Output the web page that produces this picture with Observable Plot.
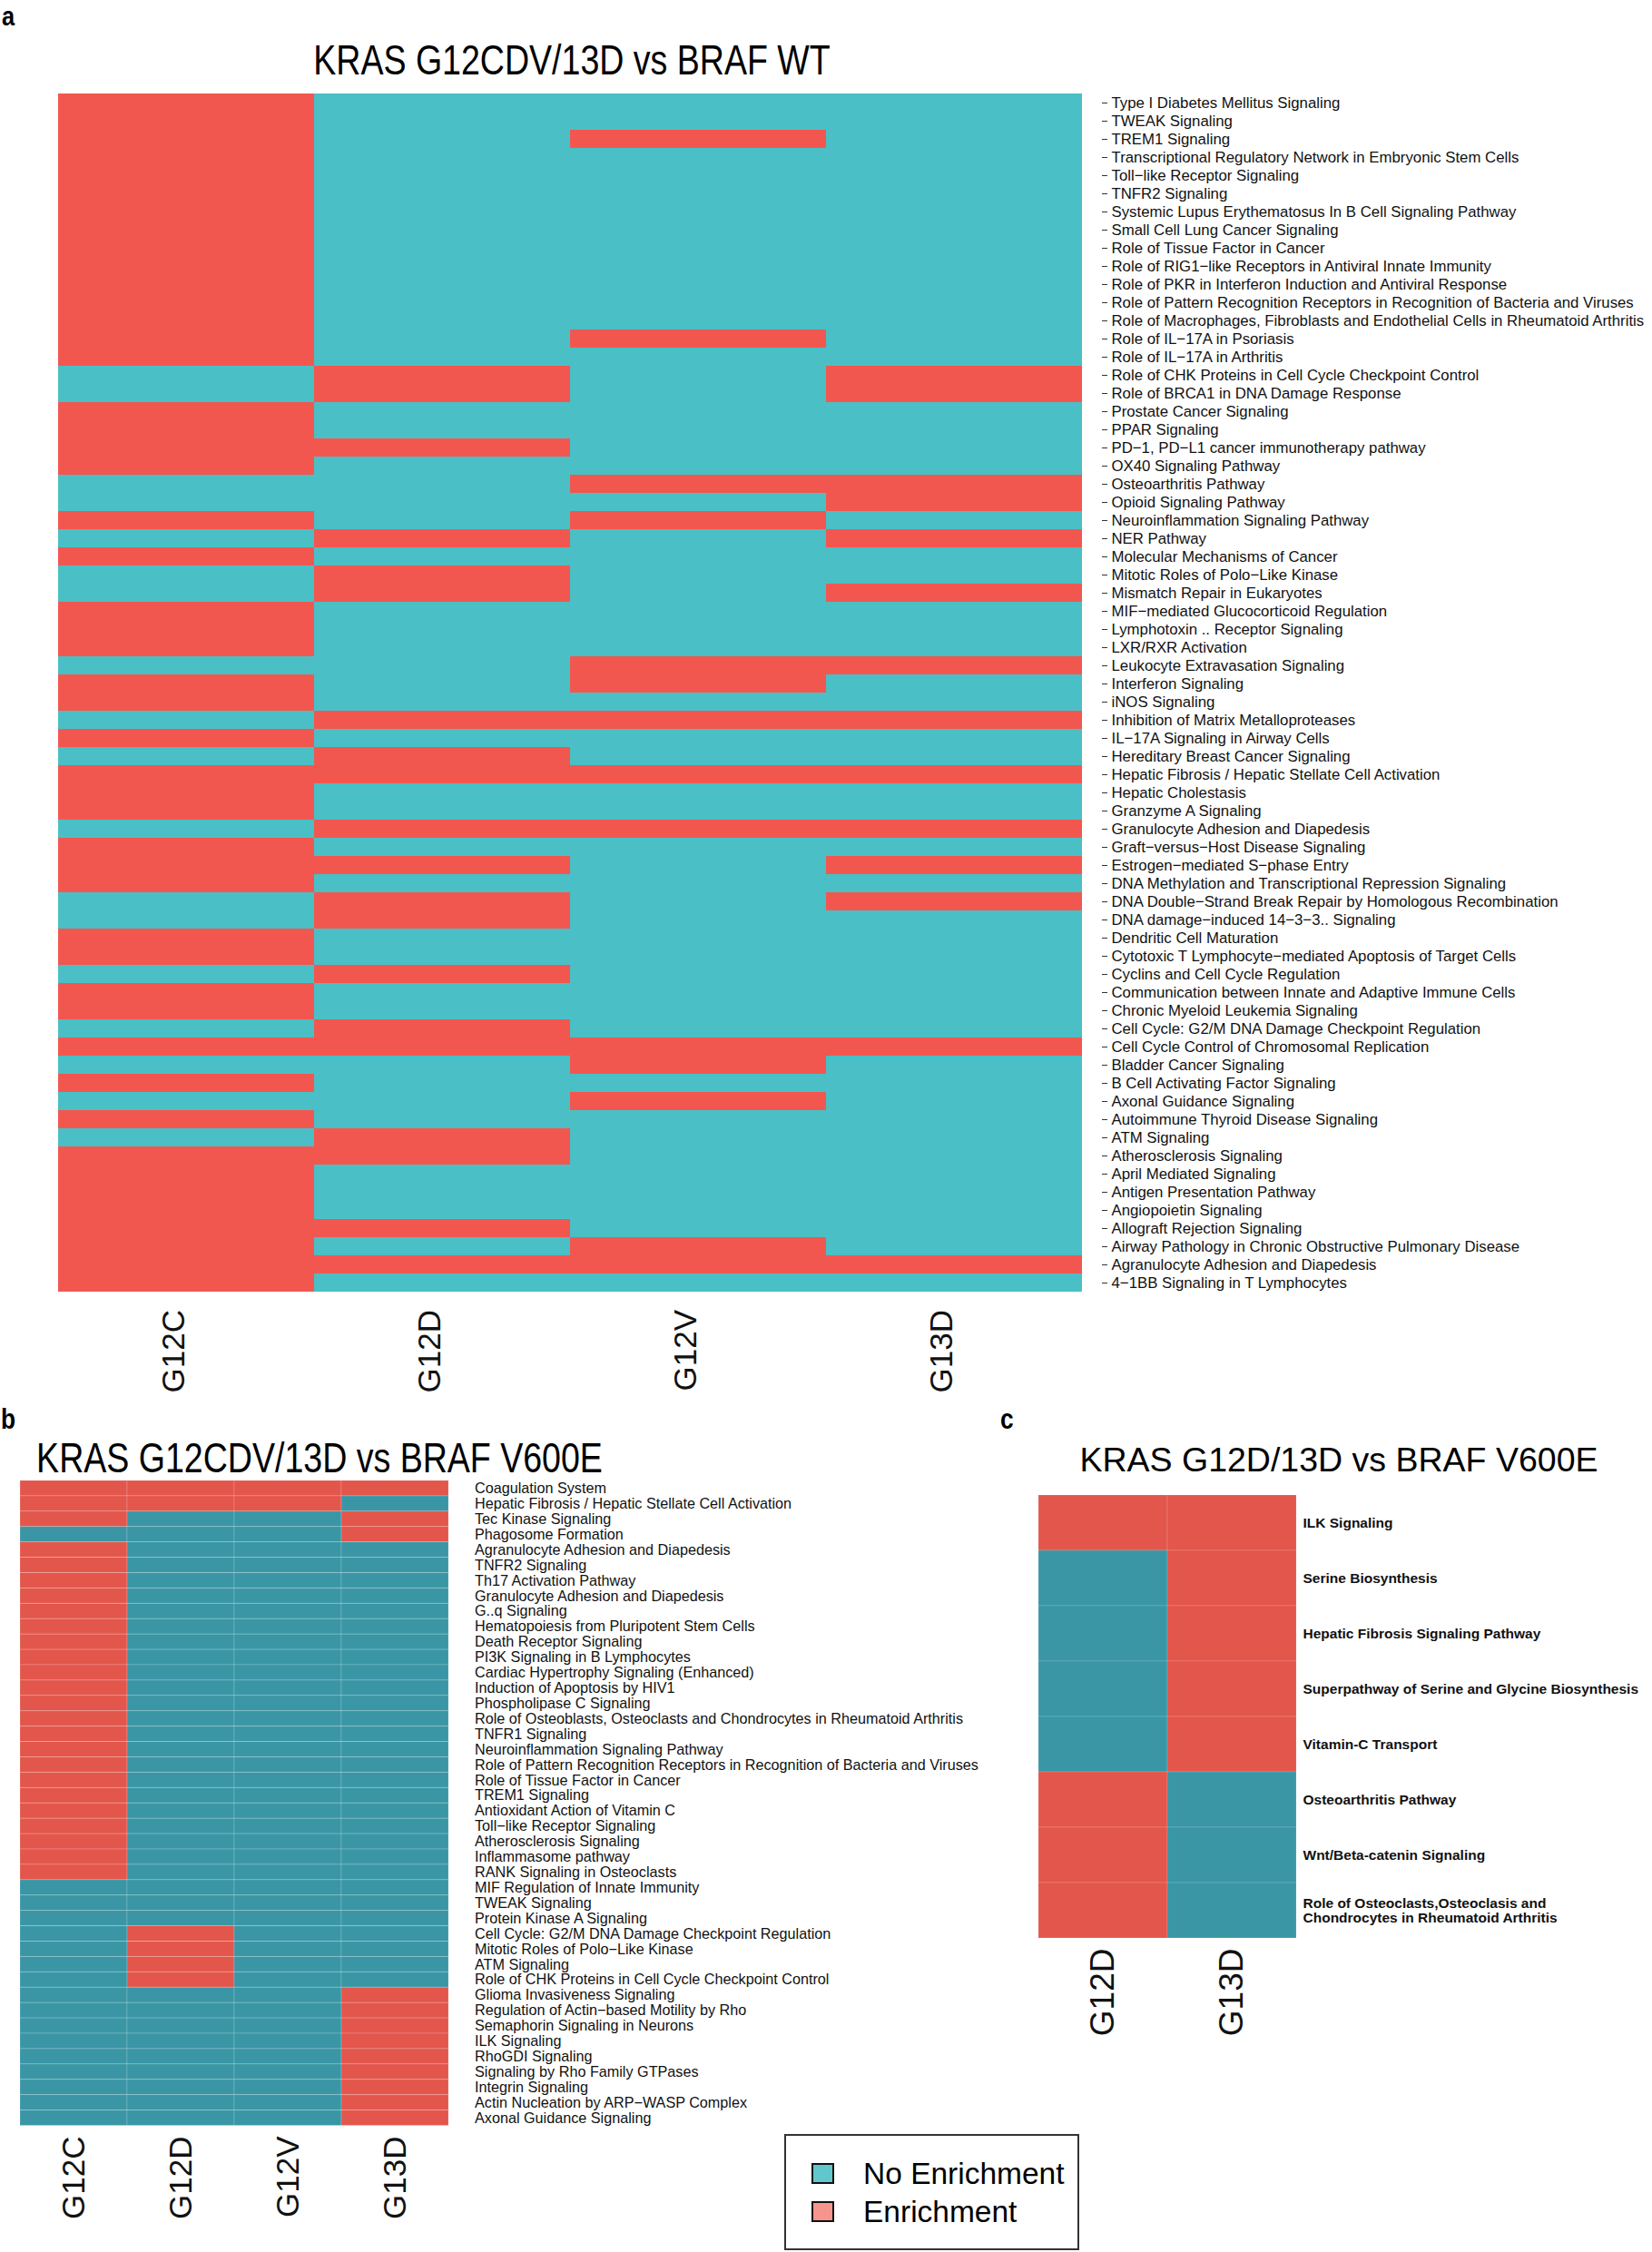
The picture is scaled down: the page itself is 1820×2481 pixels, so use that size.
<!DOCTYPE html>
<html><head><meta charset="utf-8">
<script src="https://cdn.jsdelivr.net/npm/d3@7"></script>
<script src="https://cdn.jsdelivr.net/npm/@observablehq/plot@0.6"></script>
<style>
body{margin:0;background:#fff}
#page{position:relative;width:1820px;height:2481px;overflow:hidden;font-family:"Liberation Sans",Arial,sans-serif;color:#000}
.abs{position:absolute;line-height:1;white-space:nowrap}
.abs svg{display:block}
</style></head>
<body><div id="page"></div>
<script>
// ---------------- DATA ----------------
const colsA = ["G12C","G12D","G12V","G13D"];
const pathwaysA = [
"Type I Diabetes Mellitus Signaling","TWEAK Signaling","TREM1 Signaling",
"Transcriptional Regulatory Network in Embryonic Stem Cells","Toll\u2212like Receptor Signaling","TNFR2 Signaling",
"Systemic Lupus Erythematosus In B Cell Signaling Pathway","Small Cell Lung Cancer Signaling","Role of Tissue Factor in Cancer",
"Role of RIG1\u2212like Receptors in Antiviral Innate Immunity","Role of PKR in Interferon Induction and Antiviral Response",
"Role of Pattern Recognition Receptors in Recognition of Bacteria and Viruses",
"Role of Macrophages, Fibroblasts and Endothelial Cells in Rheumatoid Arthritis",
"Role of IL\u221217A in Psoriasis","Role of IL\u221217A in Arthritis","Role of CHK Proteins in Cell Cycle Checkpoint Control",
"Role of BRCA1 in DNA Damage Response","Prostate Cancer Signaling","PPAR Signaling",
"PD\u22121, PD\u2212L1 cancer immunotherapy pathway","OX40 Signaling Pathway","Osteoarthritis Pathway","Opioid Signaling Pathway",
"Neuroinflammation Signaling Pathway","NER Pathway","Molecular Mechanisms of Cancer","Mitotic Roles of Polo\u2212Like Kinase",
"Mismatch Repair in Eukaryotes","MIF\u2212mediated Glucocorticoid Regulation","Lymphotoxin .. Receptor Signaling",
"LXR/RXR Activation","Leukocyte Extravasation Signaling","Interferon Signaling","iNOS Signaling",
"Inhibition of Matrix Metalloproteases","IL\u221217A Signaling in Airway Cells","Hereditary Breast Cancer Signaling",
"Hepatic Fibrosis / Hepatic Stellate Cell Activation","Hepatic Cholestasis","Granzyme A Signaling",
"Granulocyte Adhesion and Diapedesis","Graft\u2212versus\u2212Host Disease Signaling","Estrogen\u2212mediated S\u2212phase Entry",
"DNA Methylation and Transcriptional Repression Signaling","DNA Double\u2212Strand Break Repair by Homologous Recombination",
"DNA damage\u2212induced 14\u22123\u22123.. Signaling","Dendritic Cell Maturation","Cytotoxic T Lymphocyte\u2212mediated Apoptosis of Target Cells",
"Cyclins and Cell Cycle Regulation","Communication between Innate and Adaptive Immune Cells","Chronic Myeloid Leukemia Signaling",
"Cell Cycle: G2/M DNA Damage Checkpoint Regulation","Cell Cycle Control of Chromosomal Replication","Bladder Cancer Signaling",
"B Cell Activating Factor Signaling","Axonal Guidance Signaling","Autoimmune Thyroid Disease Signaling","ATM Signaling",
"Atherosclerosis Signaling","April Mediated Signaling","Antigen Presentation Pathway","Angiopoietin Signaling",
"Allograft Rejection Signaling","Airway Pathology in Chronic Obstructive Pulmonary Disease","Agranulocyte Adhesion and Diapedesis",
"4\u22121BB Signaling in T Lymphocytes"
];
// 1 = Enrichment, 0 = No Enrichment; columns G12C, G12D, G12V, G13D
const enrichA = [
[1,0,0,0],[1,0,0,0],[1,0,1,0],[1,0,0,0],[1,0,0,0],[1,0,0,0],[1,0,0,0],[1,0,0,0],[1,0,0,0],[1,0,0,0],
[1,0,0,0],[1,0,0,0],[1,0,0,0],[1,0,1,0],[1,0,0,0],[0,1,0,1],[0,1,0,1],[1,0,0,0],[1,0,0,0],[1,1,0,0],
[1,0,0,0],[0,0,1,1],[0,0,0,1],[1,0,1,0],[0,1,0,1],[1,0,0,0],[0,1,0,0],[0,1,0,1],[1,0,0,0],[1,0,0,0],
[1,0,0,0],[0,0,1,1],[1,0,1,0],[1,0,0,0],[0,1,1,1],[1,0,0,0],[0,1,0,0],[1,1,1,1],[1,0,0,0],[1,0,0,0],
[0,1,1,1],[1,0,0,0],[1,1,0,1],[1,0,0,0],[0,1,0,1],[0,1,0,0],[1,0,0,0],[1,0,0,0],[0,1,0,0],[1,0,0,0],
[1,0,0,0],[0,1,0,0],[1,1,1,1],[0,0,1,0],[1,0,0,0],[0,0,1,0],[1,0,0,0],[0,1,0,0],[1,1,0,0],[1,0,0,0],
[1,0,0,0],[1,0,0,0],[1,1,0,0],[1,0,1,0],[1,1,1,1],[1,0,0,0]
];

const colsB = ["G12C","G12D","G12V","G13D"];
const pathwaysB = [
"Coagulation System","Hepatic Fibrosis / Hepatic Stellate Cell Activation","Tec Kinase Signaling","Phagosome Formation",
"Agranulocyte Adhesion and Diapedesis","TNFR2 Signaling","Th17 Activation Pathway","Granulocyte Adhesion and Diapedesis",
"G..q Signaling","Hematopoiesis from Pluripotent Stem Cells","Death Receptor Signaling","PI3K Signaling in B Lymphocytes",
"Cardiac Hypertrophy Signaling (Enhanced)","Induction of Apoptosis by HIV1","Phospholipase C Signaling",
"Role of Osteoblasts, Osteoclasts and Chondrocytes in Rheumatoid Arthritis","TNFR1 Signaling","Neuroinflammation Signaling Pathway",
"Role of Pattern Recognition Receptors in Recognition of Bacteria and Viruses","Role of Tissue Factor in Cancer","TREM1 Signaling",
"Antioxidant Action of Vitamin C","Toll\u2212like Receptor Signaling","Atherosclerosis Signaling","Inflammasome pathway",
"RANK Signaling in Osteoclasts","MIF Regulation of Innate Immunity","TWEAK Signaling","Protein Kinase A Signaling",
"Cell Cycle: G2/M DNA Damage Checkpoint Regulation","Mitotic Roles of Polo\u2212Like Kinase","ATM Signaling",
"Role of CHK Proteins in Cell Cycle Checkpoint Control","Glioma Invasiveness Signaling","Regulation of Actin\u2212based Motility by Rho",
"Semaphorin Signaling in Neurons","ILK Signaling","RhoGDI Signaling","Signaling by Rho Family GTPases","Integrin Signaling",
"Actin Nucleation by ARP\u2212WASP Complex","Axonal Guidance Signaling"
];
const enrichB = [
[1,1,1,1],[1,1,1,0],[1,0,0,1],[0,0,0,1],
[1,0,0,0],[1,0,0,0],[1,0,0,0],[1,0,0,0],[1,0,0,0],[1,0,0,0],[1,0,0,0],[1,0,0,0],[1,0,0,0],[1,0,0,0],[1,0,0,0],
[1,0,0,0],[1,0,0,0],[1,0,0,0],[1,0,0,0],[1,0,0,0],[1,0,0,0],[1,0,0,0],[1,0,0,0],[1,0,0,0],[1,0,0,0],[1,0,0,0],
[0,0,0,0],[0,0,0,0],[0,0,0,0],
[0,1,0,0],[0,1,0,0],[0,1,0,0],[0,1,0,0],
[0,0,0,1],[0,0,0,1],[0,0,0,1],[0,0,0,1],[0,0,0,1],[0,0,0,1],[0,0,0,1],[0,0,0,1],[0,0,0,1]
];

const colsC = ["G12D","G13D"];
const pathwaysC = [
"ILK Signaling","Serine Biosynthesis","Hepatic Fibrosis Signaling Pathway",
"Superpathway of Serine and Glycine Biosynthesis","Vitamin-C Transport","Osteoarthritis Pathway",
"Wnt/Beta-catenin Signaling","Role of Osteoclasts,Osteoclasis and\nChondrocytes in Rheumatoid Arthritis"
];
const enrichC = [[1,1],[0,1],[0,1],[0,1],[0,1],[1,0],[1,0],[1,0]];

const statusLevels = ["No Enrichment","Enrichment"];
const titleA = "KRAS G12CDV/13D vs BRAF WT";
const titleB = "KRAS G12CDV/13D vs BRAF V600E";
const titleC = "KRAS G12D/13D vs BRAF V600E";

// ---------------- STYLE ----------------
const REG = '"Liberation Sans",Arial,sans-serif';
const tealA = "#4bbfc6", redA = "#f2574f";
const tealB = "#3a96a5", redB = "#e3564c";

const page = document.getElementById("page");
function place(el, left, top){
  const d = document.createElement("div");
  d.className = "abs"; d.style.left = left+"px"; d.style.top = top+"px";
  d.appendChild(el); page.appendChild(d); return d;
}
function label(text, opts){
  const d = document.createElement("div");
  d.className = "abs";
  d.textContent = text;
  d.style.fontFamily = opts.family || REG;
  d.style.fontSize = opts.size+"px";
  d.style.fontWeight = opts.weight || "normal";
  d.style.top = (opts.baseline - 0.8465*opts.size)+"px";
  if (opts.center !== undefined){
    d.style.left = (opts.center - 1000)+"px"; d.style.width = "2000px"; d.style.textAlign = "center";
    d.style.transformOrigin = "50% 50%";
  } else { d.style.left = opts.left+"px"; d.style.transformOrigin = "0 50%"; }
  if (opts.sx) d.style.transform = `scaleX(${opts.sx})`;
  page.appendChild(d); return d;
}
function cells(paths, cols, m){
  return paths.flatMap((p,i)=>cols.map((c,j)=>({pathway:p, col:c, status: statusLevels[m[i][j]]})));
}

// ---------------- PANEL A ----------------
const plotA = Plot.plot({
  width: 1820, height: 1545,
  marginLeft: 63, marginRight: 627, marginTop: 97, marginBottom: 115.5,
  style: {fontFamily: REG, background: "transparent"},
  x: {domain: colsA, padding: 0, axis: null},
  y: {domain: pathwaysA, padding: 0, axis: null},
  color: {type: "ordinal", domain: statusLevels, range: [tealA, redA]},
  marks: [
    Plot.cell(cells(pathwaysA, colsA, enrichA), {x: "col", y: "pathway", fill: "status"}),
    Plot.axisY({anchor: "right", label: null, tickSize: 6, tickPadding: 5, dx: 20, fontSize: 16.8, fontFamily: REG, stroke: "#333", fill: "#111"}),
    Plot.axisX({anchor: "bottom", label: null, tickSize: 0, tickPadding: 13, tickRotate: -90, dx: -14, fontSize: 35, fontFamily: REG, fill: "#111"})
  ]
});
place(plotA, 0, 0);

// ---------------- PANEL B ----------------
const plotB = Plot.plot({
  width: 1100, height: 861,
  marginLeft: 22, marginRight: 605.5, marginTop: 11, marginBottom: 139.5,
  style: {fontFamily: REG, background: "transparent"},
  x: {domain: colsB, padding: 0, axis: null},
  y: {domain: pathwaysB, padding: 0, axis: null},
  color: {type: "ordinal", domain: statusLevels, range: [tealB, redB]},
  marks: [
    Plot.cell(cells(pathwaysB, colsB, enrichB), {x: "col", y: "pathway", fill: "status", stroke: "#ffffff", strokeOpacity: 0.18, strokeWidth: 1}),
    Plot.axisY({anchor: "right", label: null, tickSize: 0, tickPadding: 28, fontSize: 16.2, fontFamily: REG, fill: "#111"}),
    Plot.axisX({anchor: "bottom", label: null, tickSize: 0, tickPadding: 11.5, tickRotate: -90, fontSize: 35, fontFamily: REG, fill: "#111"})
  ]
});
place(plotB, 0, 1620);

// ---------------- PANEL C ----------------
const plotC = Plot.plot({
  width: 720, height: 620,
  marginLeft: 43.5, marginRight: 392.5, marginTop: 9, marginBottom: 120,
  style: {fontFamily: REG, background: "transparent"},
  x: {domain: colsC, padding: 0, axis: null},
  y: {domain: pathwaysC, padding: 0, axis: null},
  color: {type: "ordinal", domain: statusLevels, range: [tealB, redB]},
  marks: [
    Plot.cell(cells(pathwaysC, colsC, enrichC), {x: "col", y: "pathway", fill: "status", stroke: "#ffffff", strokeOpacity: 0.15, strokeWidth: 1}),
    Plot.axisY({anchor: "right", label: null, tickSize: 0, tickPadding: 7.5, fontSize: 15.5, fontWeight: "bold", fontFamily: REG, fill: "#111"}),
    Plot.axisX({anchor: "bottom", label: null, tickSize: 0, tickPadding: 10, tickRotate: -90, fontSize: 37, fontFamily: REG, fill: "#111"})
  ]
});
place(plotC, 1100, 1636);

// ---------------- TITLES & PANEL LETTERS ----------------
label("a", {left: 2, baseline: 28, size: 30, weight: "bold", sx: 0.85});
label("b", {left: 1, baseline: 1574, size: 31, weight: "bold", sx: 0.85});
label("c", {left: 1102, baseline: 1574, size: 31, weight: "bold", sx: 0.85});
label(titleA, {center: 630, baseline: 82, size: 46, sx: 0.816});
label(titleB, {center: 352, baseline: 1622, size: 46, sx: 0.816});
label(titleC, {center: 1475, baseline: 1622, size: 37.5});

// ---------------- LEGEND ----------------
const box = document.createElement("div");
box.className = "abs";
Object.assign(box.style, {left: "864px", top: "2351px", width: "321px", height: "124px", border: "2px solid #333"});
page.appendChild(box);
const swatchColors = ["#62c7cc", "#f5958d"];
const swatchTops = [2383, 2425];
const textBase = [2406, 2448];
statusLevels.forEach((s, i) => {
  const sw = document.createElement("div");
  sw.className = "abs";
  Object.assign(sw.style, {left: "894px", top: swatchTops[i]+"px", width: "21px", height: "19px", background: swatchColors[i], border: "2px solid #111"});
  page.appendChild(sw);
  label(s, {left: 951, baseline: textBase[i], size: 33.5});
});
</script>
</body></html>
